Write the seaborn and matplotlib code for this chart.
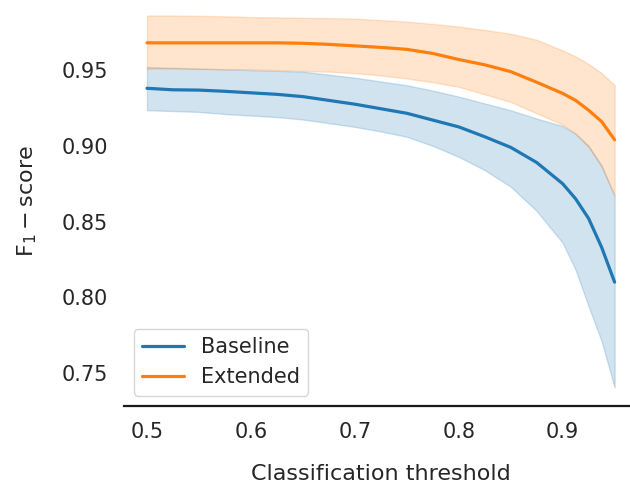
import matplotlib
matplotlib.use("Agg")
import matplotlib.pyplot as plt
import seaborn as sns
import pandas as pd

# Classification thresholds
thresholds = [0.5, 0.525, 0.55, 0.575, 0.6, 0.625, 0.65, 0.675, 0.7, 0.725,
              0.75, 0.775, 0.8, 0.825, 0.85, 0.875, 0.9, 0.9125, 0.925, 0.9375, 0.95]

# Baseline F1 mean and band
baseline_mean = [0.938, 0.937, 0.9368, 0.936, 0.935, 0.934, 0.9325, 0.930, 0.9275, 0.9245,
                 0.9215, 0.917, 0.9125, 0.906, 0.899, 0.889, 0.875, 0.865, 0.852, 0.833, 0.810]
baseline_high = [0.952, 0.9515, 0.951, 0.9505, 0.950, 0.9495, 0.949, 0.947, 0.945, 0.9425,
                 0.940, 0.9365, 0.9325, 0.928, 0.9235, 0.918, 0.913, 0.908, 0.900, 0.887, 0.867]
baseline_low = [0.9235, 0.923, 0.9224, 0.921, 0.920, 0.919, 0.9174, 0.915, 0.9125, 0.9095,
                0.906, 0.900, 0.8927, 0.884, 0.873, 0.857, 0.836, 0.818, 0.794, 0.771, 0.7405]

# Extended F1 mean and band
extended_mean = [0.968, 0.968, 0.968, 0.968, 0.968, 0.968, 0.9677, 0.967, 0.966, 0.965,
                 0.9637, 0.961, 0.957, 0.9535, 0.949, 0.942, 0.9346, 0.930, 0.9235, 0.916, 0.904]
extended_high = [0.986, 0.986, 0.9858, 0.9855, 0.985, 0.9848, 0.9845, 0.9843, 0.984, 0.983,
                 0.982, 0.9805, 0.9787, 0.9765, 0.974, 0.970, 0.963, 0.959, 0.954, 0.948, 0.940]
extended_low = [0.951, 0.951, 0.9508, 0.9506, 0.9505, 0.950, 0.9495, 0.949, 0.948, 0.9465,
                0.9445, 0.942, 0.939, 0.934, 0.929, 0.9215, 0.914, 0.908, 0.899, 0.886, 0.867]

models = ["Baseline", "Extended"]
colors = ["#1f77b4", "#ff7f0e"]

df = pd.concat([
    pd.DataFrame({"threshold": thresholds, "f1": baseline_mean, "model": "Baseline"}),
    pd.DataFrame({"threshold": thresholds, "f1": extended_mean, "model": "Extended"}),
])

sns.set_style("white")
plt.rcParams["font.size"] = 15

fig = plt.figure(figsize=(6.3, 4.86), dpi=100)
ax = fig.add_axes([0.1962, 0.1646, 0.8165, 0.8416])

sns.lineplot(data=df, x="threshold", y="f1", hue="model", palette=colors,
             linewidth=2.3, ax=ax)
ax.fill_between(thresholds, baseline_low, baseline_high, color=colors[0], alpha=0.2)
ax.fill_between(thresholds, extended_low, extended_high, color=colors[1], alpha=0.2)

ax.set_xticks([0.5, 0.6, 0.7, 0.8, 0.9])
ax.set_yticks([0.75, 0.80, 0.85, 0.90, 0.95])
ax.tick_params(labelsize=15, pad=8)
ax.set_xlabel("Classification threshold", fontsize=16, labelpad=16)
ax.set_ylabel(r"$\mathrm{F_1-score}$", fontsize=16, labelpad=16)
sns.despine(ax=ax, left=True)
ax.spines["bottom"].set_linewidth(1.6)
ax.spines["bottom"].set_color("0.1")
ax.legend(loc="lower left", fontsize=15)

fig.savefig("out.png", dpi=100)
